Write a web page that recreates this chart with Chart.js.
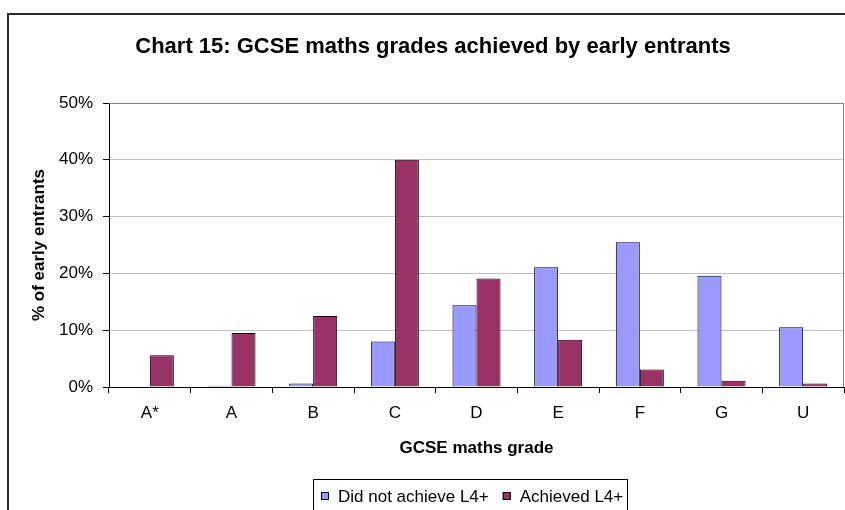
<!DOCTYPE html>
<html>
<head>
<meta charset="utf-8">
<script src="https://cdn.jsdelivr.net/npm/chart.js@4.4.0/dist/chart.umd.min.js"></script>
<style>
  html, body { margin: 0; padding: 0; background: #fff; }
  canvas { display: block; }
</style>
</head>
<body>
<canvas id="chart" width="845" height="510"></canvas>
<script>
"use strict";

// values (percent of early entrants)
var grades = ["A*", "A", "B", "C", "D", "E", "F", "G", "U"];
var didNotAchieve = [0, 0.2, 0.6, 8.0, 14.4, 21.1, 25.5, 19.6, 10.5];
var achieved = [5.6, 9.5, 12.5, 40.0, 19.1, 8.3, 3.1, 1.1, 0.6];
var yTicks = [0, 10, 20, 30, 40, 50];
var seriesNames = ["Did not achieve L4+", "Achieved L4+"];
var chartTitle = "Chart 15: GCSE maths grades achieved by early entrants";
var xTitle = "GCSE maths grade";
var yTitle = "% of early entrants";

var FONT = "'Liberation Sans', Arial, sans-serif";

Chart.defaults.font.family = FONT;
Chart.defaults.font.size = 17;
Chart.defaults.color = "#000";

/**
 * Draws the frame, titles and the boxed legend the way the old
 * spreadsheet chart had them.
 */
var chartDecor = {
    id: "chartDecor",
    afterDraw: function (chart) {
        var ctx = chart.ctx;
        var area = chart.chartArea;

        ctx.save();

        // outer frame (runs off the right and bottom edge)
        ctx.strokeStyle = "#2b2b2b";
        ctx.lineWidth = 2;
        ctx.strokeRect(8, 14, 900, 600);

        // grey top and right edge of the plot area
        ctx.strokeStyle = "#808080";
        ctx.lineWidth = 1;
        ctx.beginPath();
        ctx.moveTo(area.left, area.top + 0.5);
        ctx.lineTo(area.right - 0.5, area.top + 0.5);
        ctx.lineTo(area.right - 0.5, area.bottom);
        ctx.stroke();

        ctx.fillStyle = "#000";

        // chart title
        ctx.font = "bold 22px " + FONT;
        ctx.textAlign = "center";
        ctx.textBaseline = "alphabetic";
        ctx.fillText(chartTitle, 433, 53);

        // axis titles
        ctx.font = "bold 17px " + FONT;
        ctx.fillText(xTitle, (area.left + area.right) / 2, 453);

        ctx.save();
        ctx.translate(39, (area.top + area.bottom) / 2);
        ctx.rotate(-Math.PI / 2);
        ctx.textBaseline = "middle";
        ctx.fillText(yTitle, 0, 0);
        ctx.restore();

        // legend box
        ctx.strokeStyle = "#000";
        ctx.strokeRect(313.5, 479.5, 314, 60);

        ctx.font = "17px " + FONT;
        ctx.textAlign = "left";
        var x = 321;
        chart.data.datasets.forEach(function (ds) {
            ctx.fillStyle = ds.backgroundColor;
            ctx.fillRect(x, 492, 8, 8);
            ctx.strokeRect(x + 0.5, 492.5, 7, 7);
            ctx.fillStyle = "#000";
            ctx.fillText(ds.label, x + 17, 502);
            x += 17 + ctx.measureText(ds.label).width + 14;
        });

        ctx.restore();
    }
};

new Chart(document.getElementById("chart"), {
    type: "bar",
    data: {
        labels: grades,
        datasets: [{
            label: seriesNames[0],
            data: didNotAchieve,
            backgroundColor: "#9999FF",
            borderColor: "#000",
            borderWidth: 1
        }, {
            label: seriesNames[1],
            data: achieved,
            backgroundColor: "#993366",
            borderColor: "#000",
            borderWidth: 1
        }]
    },
    options: {
        responsive: false,
        animation: false,
        devicePixelRatio: 1,
        layout: {
            padding: { top: 103, right: 1, left: 0, bottom: 0 }
        },
        datasets: {
            bar: {
                categoryPercentage: 0.588,
                barPercentage: 1
            }
        },
        plugins: {
            legend: { display: false },
            title: { display: false },
            tooltip: { enabled: false }
        },
        scales: {
            x: {
                grid: {
                    offset: true,
                    drawOnChartArea: false,
                    tickLength: 6,
                    tickColor: "#000"
                },
                border: { color: "#000" },
                ticks: {
                    padding: 10,
                    maxRotation: 0
                },
                afterFit: function (scale) {
                    scale.height = 123;
                }
            },
            y: {
                min: yTicks[0],
                max: yTicks[yTicks.length - 1],
                grid: {
                    color: function (c) {
                        return c.tick && c.tick.value === 0 ? "#000" : "#c0c0c0";
                    },
                    tickLength: 6,
                    tickColor: "#000"
                },
                border: { color: "#000" },
                ticks: {
                    stepSize: yTicks[1] - yTicks[0],
                    padding: 10,
                    callback: function (value) {
                        return value + "%";
                    }
                },
                afterFit: function (scale) {
                    scale.width = 109;
                }
            }
        }
    },
    plugins: [chartDecor]
});
</script>
</body>
</html>
